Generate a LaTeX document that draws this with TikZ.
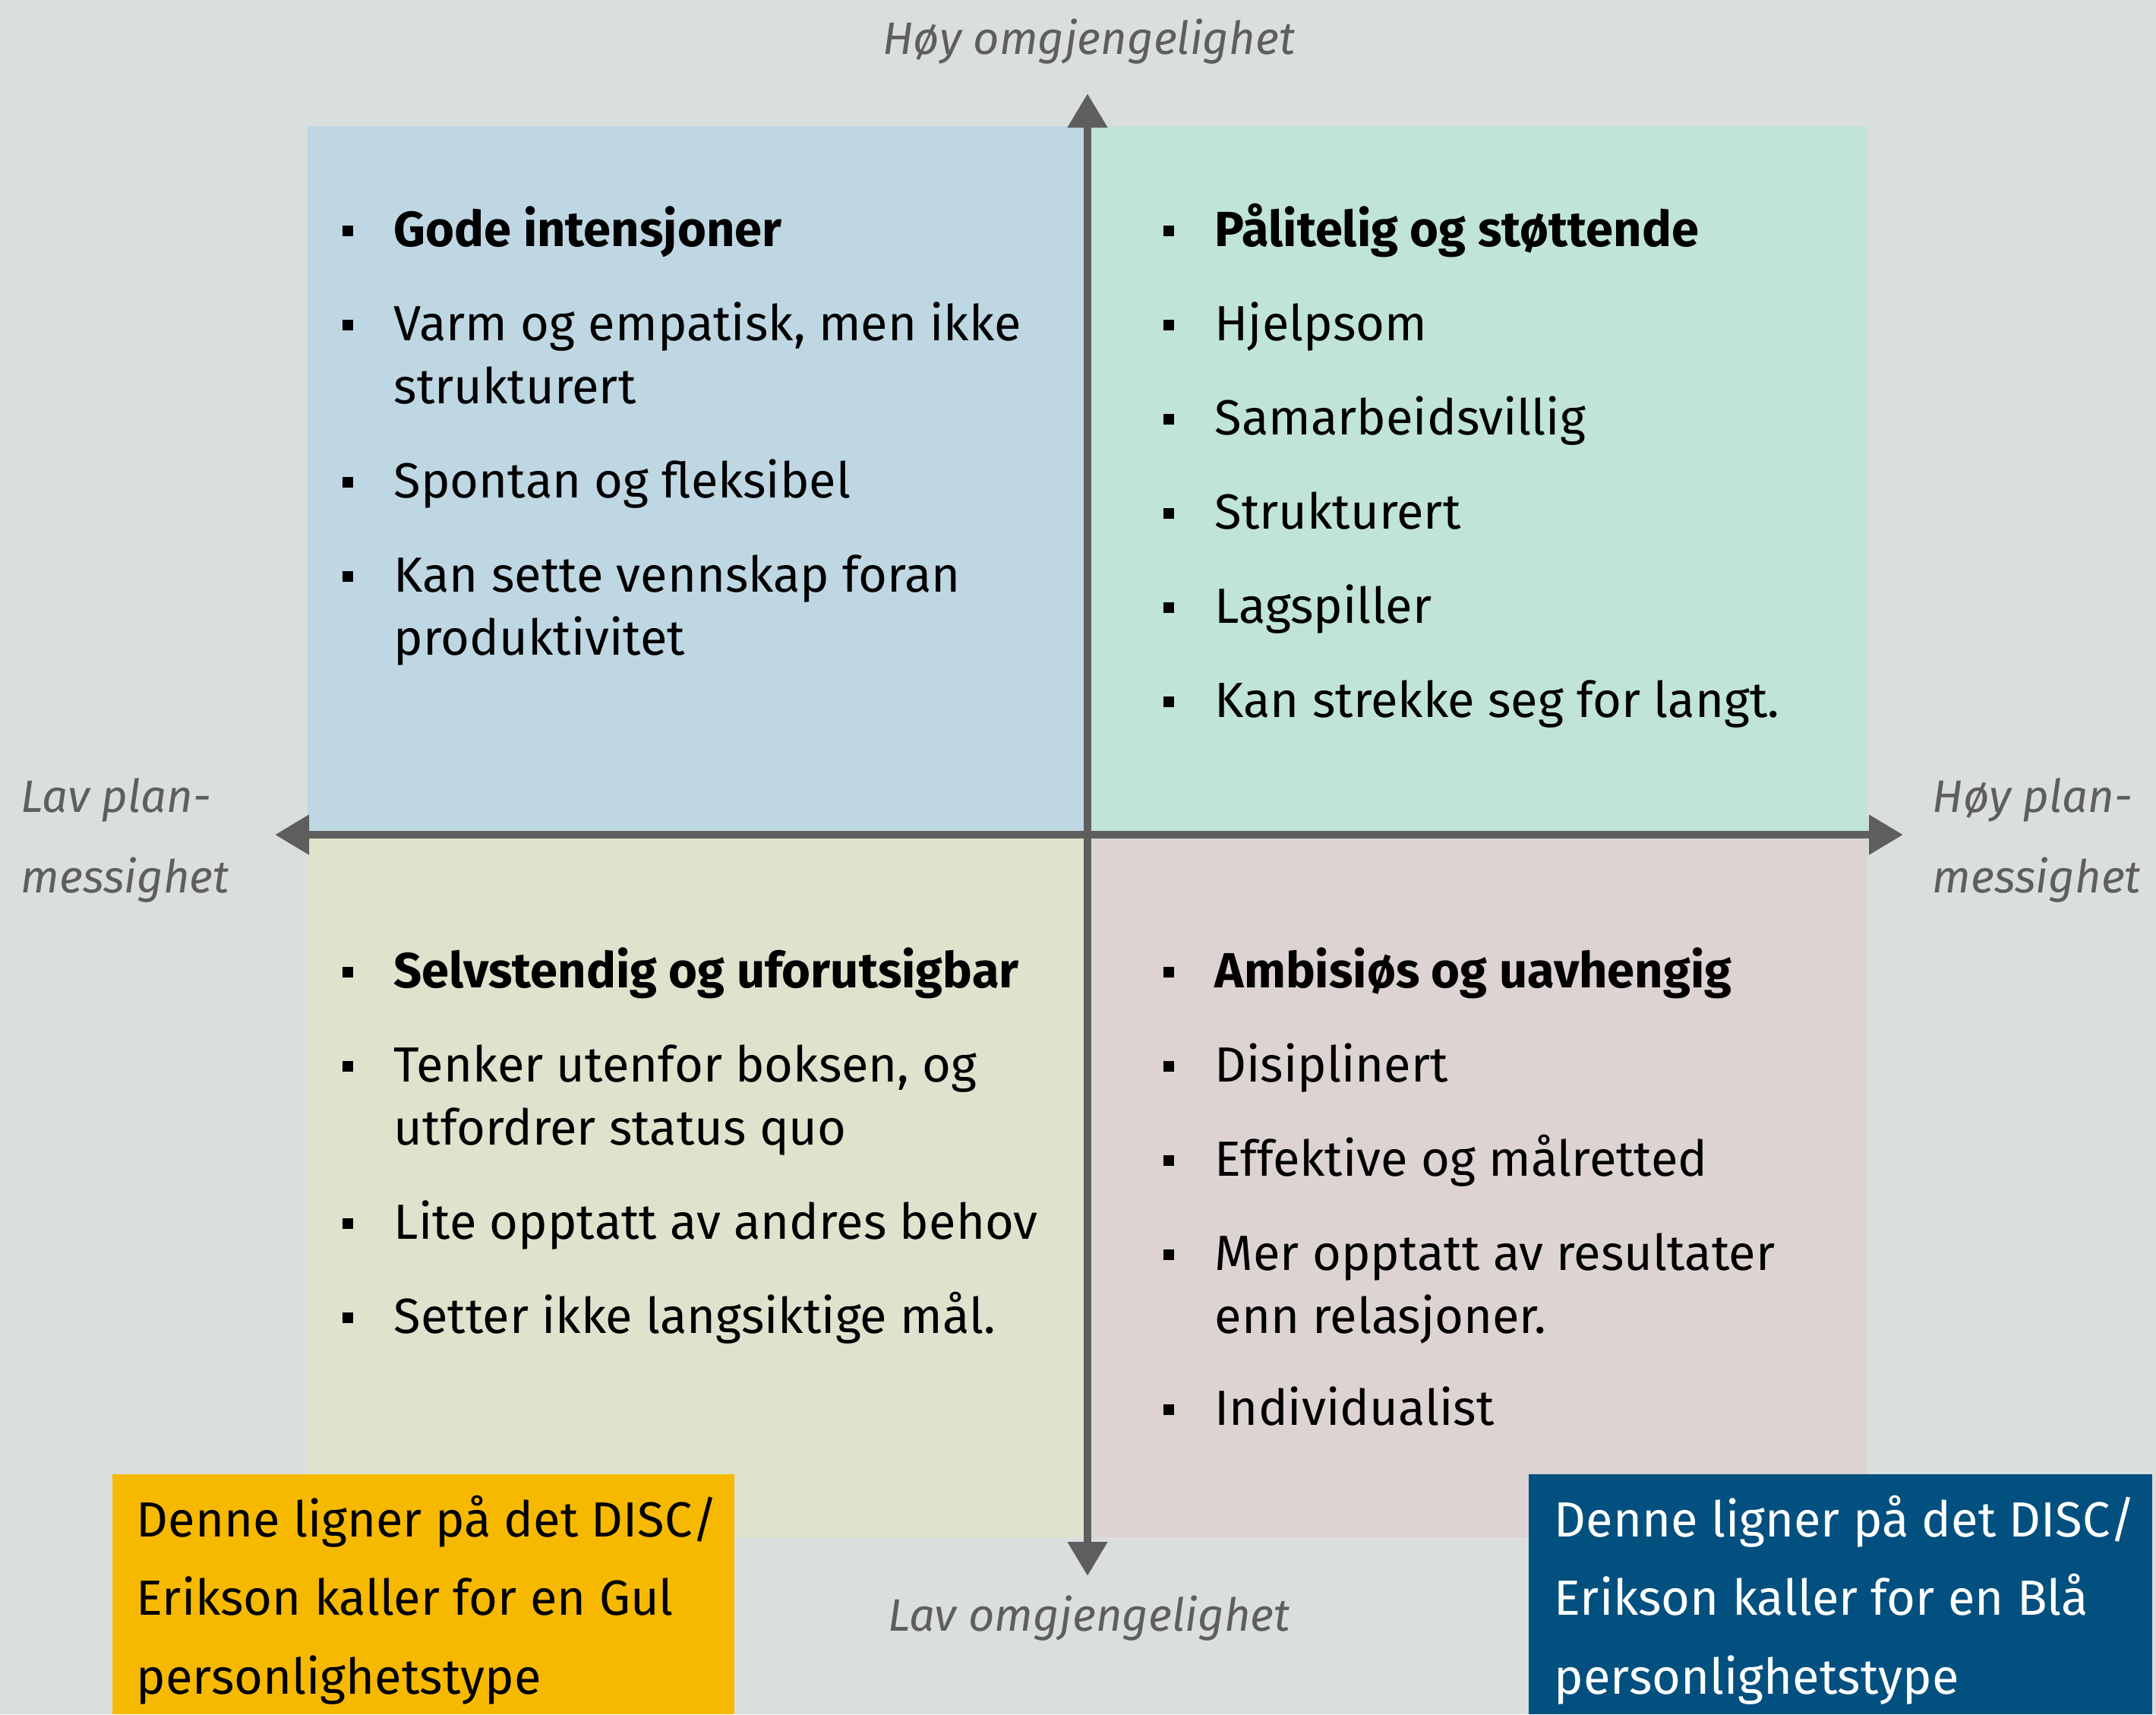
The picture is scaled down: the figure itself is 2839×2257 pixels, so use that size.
\documentclass[tikz,border=0pt]{standalone}
\usepackage{fontspec}
\setmainfont{Fira Sans}
\usetikzlibrary{arrows.meta,positioning}
\definecolor{bakgrunn}{HTML}{DADFDE}
\definecolor{kvblaa}{HTML}{BED7E3}
\definecolor{kvgronn}{HTML}{C0E4D7}
\definecolor{kvoliven}{HTML}{DFE3CD}
\definecolor{kvrosa}{HTML}{DCD3D2}
\definecolor{aksegraa}{HTML}{5E5E5E}
\definecolor{gulboks}{HTML}{F6B900}
\definecolor{blaaboks}{HTML}{02507F}

\begin{document}
\begin{tikzpicture}[x=0.01cm,y=-0.01cm,
    every node/.style={inner sep=0pt,anchor=base west},
    tekst/.style={align=left,font=\fontsize{18.5pt}{23.6pt}\selectfont},
    tittel/.style={align=left,font=\fontsize{18.5pt}{23.6pt}\selectfont\bfseries},
    bullet/.style={fill=black,minimum size=0.14cm,anchor=center},
    akse/.style={line width=3.1pt,draw=aksegraa,
        {Triangle[length=0.45cm,width=0.5cm]}-{Triangle[length=0.45cm,width=0.5cm]}},
    aksetekst/.style={align=left,text=aksegraa,font=\fontsize{17pt}{29.9pt}\selectfont\itshape},
    boks/.style={align=left,font=\fontsize{18.5pt}{29.3pt}\selectfont}]

% background and quadrants
\fill[bakgrunn] (0,0) rectangle (2839,2257);
\useasboundingbox (0,0) rectangle (2839,2257);
\fill[kvblaa] (405,166) rectangle (1432,1099);
\fill[kvgronn] (1432,166) rectangle (2459,1099);
\fill[kvoliven] (405,1099) rectangle (1432,2024);
\fill[kvrosa] (1432,1099) rectangle (2459,2024);

% axes
\coordinate (vest) at (362,1099);
\coordinate (ost) at (2506,1099);
\coordinate (topp) at (1432,123);
\coordinate (bunn) at (1432,2075);
\draw[akse] (vest) -- (ost);
\draw[akse] (topp) -- (bunn);

% multi-line nodes sit on their last baseline
\node[aksetekst,anchor=base] (hoyomg) at (1434,71) {Høy omgjengelighet};
\node[aksetekst,anchor=base] (lavomg) at (1434,2147) {Lav omgjengelighet};
\node[aksetekst] (lavplan) at (27,1175) {Lav plan-\\messighet};
\node[aksetekst] (hoyplan) at (2544,1175) {Høy plan-\\messighet};

% upper left
\node[bullet] (tlb1) at (458,304) {};
\node[tittel] (tl1) at (518,324) {Gode intensjoner};
\node[bullet] (tlb2) at (458,428) {};
\node[tekst] (tl2) at (518,531) {Varm og empatisk, men ikke\\strukturert};
\node[bullet] (tlb3) at (458,635) {};
\node[tekst] (tl3) at (518,655) {Spontan og fleksibel};
\node[bullet] (tlb4) at (458,759) {};
\node[tekst] (tl4) at (518,862) {Kan sette vennskap foran\\produktivitet};

% upper right
\node[bullet] (trb1) at (1539,304) {};
\node[tittel] (tr1) at (1599,324) {Pålitelig og støttende};
\node[bullet] (trb2) at (1539,428) {};
\node[tekst] (tr2) at (1599,448) {Hjelpsom};
\node[bullet] (trb3) at (1539,552) {};
\node[tekst] (tr3) at (1599,572) {Samarbeidsvillig};
\node[bullet] (trb4) at (1539,676) {};
\node[tekst] (tr4) at (1599,696) {Strukturert};
\node[bullet] (trb5) at (1539,800) {};
\node[tekst] (tr5) at (1599,820) {Lagspiller};
\node[bullet] (trb6) at (1539,924) {};
\node[tekst] (tr6) at (1599,944) {Kan strekke seg for langt.};

% lower left
\node[bullet] (blb1) at (458,1280) {};
\node[tittel] (bl1) at (518,1300) {Selvstendig og uforutsigbar};
\node[bullet] (blb2) at (458,1404) {};
\node[tekst] (bl2) at (518,1507) {Tenker utenfor boksen, og\\utfordrer status quo};
\node[bullet] (blb3) at (458,1611) {};
\node[tekst] (bl3) at (518,1631) {Lite opptatt av andres behov};
\node[bullet] (blb4) at (458,1735) {};
\node[tekst] (bl4) at (518,1755) {Setter ikke langsiktige mål.};

% lower right
\node[bullet] (brb1) at (1539,1280) {};
\node[tittel] (br1) at (1599,1300) {Ambisiøs og uavhengig};
\node[bullet] (brb2) at (1539,1404) {};
\node[tekst] (br2) at (1599,1424) {Disiplinert};
\node[bullet] (brb3) at (1539,1528) {};
\node[tekst] (br3) at (1599,1548) {Effektive og målretted};
\node[bullet] (brb4) at (1539,1652) {};
\node[tekst] (br4) at (1599,1755) {Mer opptatt av resultater\\enn relasjoner.};
\node[bullet] (brb5) at (1539,1856) {};
\node[tekst] (br5) at (1599,1876) {Individualist};

% DISC boxes
\fill[gulboks] (148,1941) rectangle (967,2257);
\node[boks] (gul) at (179,2230) {Denne ligner på det DISC/\\Erikson kaller for en Gul\\personlighetstype};
\fill[blaaboks] (2013,1941) rectangle (2834,2257);
\node[boks,text=white] (blaa) at (2046,2230) {Denne ligner på det DISC/\\Erikson kaller for en Blå\\personlighetstype};
\end{tikzpicture}
\end{document}
